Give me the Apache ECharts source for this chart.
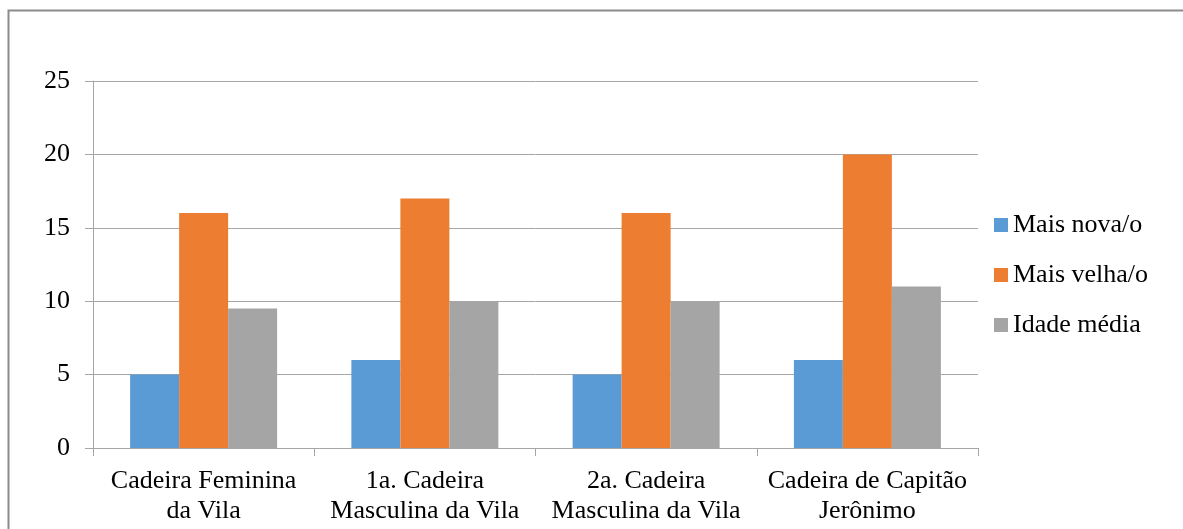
<!DOCTYPE html>
<html><head><meta charset="utf-8">
<script src="https://cdn.jsdelivr.net/npm/echarts@6/dist/echarts.min.js"></script>
<style>html,body{margin:0;padding:0;background:#fff}#c{width:1183px;height:529px}</style>
</head><body><div id="c"></div>
<script>
const categories = ["Cadeira Feminina\nda Vila", "1a. Cadeira\nMasculina da Vila", "2a. Cadeira\nMasculina da Vila", "Cadeira de Capitão\nJerônimo"];
const seriesNames = ["Mais nova/o", "Mais velha/o", "Idade média"];
const maisNova = [5, 6, 5, 6];
const maisVelha = [16, 17, 16, 20];
const idadeMedia = [9.5, 10, 10, 11];
const colors = ["#5B9BD5", "#ED7D31", "#A5A5A5"];
const font = "'Liberation Serif', 'Times New Roman', serif";

const chart = echarts.init(document.getElementById('c'));
chart.setOption({
  animation: false,
  color: colors,
  textStyle: { fontFamily: font },
  graphic: [{
    type: 'rect', shape: { x: 8.5, y: 10.5, width: 1190, height: 600 },
    style: { fill: 'none', stroke: '#8c8c8c', lineWidth: 2 }, silent: true
  }],
  grid: { left: 93, right: 205, top: 81, bottom: 81, containLabel: false },
  legend: {
    orient: 'vertical', left: 989, top: 207, itemWidth: 14, itemHeight: 14, itemGap: 24,
    icon: 'rect',
    textStyle: { fontFamily: font, fontSize: 26, color: '#000', lineHeight: 26 },
    data: seriesNames
  },
  xAxis: {
    type: 'category', data: categories,
    axisLine: { lineStyle: { color: '#a6a6a6', width: 1 } },
    axisTick: { show: true, length: 8, alignWithLabel: false, lineStyle: { color: '#a6a6a6' } },
    axisLabel: { fontFamily: font, fontSize: 26, color: '#000', lineHeight: 30, margin: 18, interval: 0 }
  },
  yAxis: {
    type: 'value', min: 0, max: 25, interval: 5,
    axisLine: { show: true, lineStyle: { color: '#a6a6a6', width: 1 } },
    axisTick: { show: true, length: 8, lineStyle: { color: '#a6a6a6' } },
    splitLine: { show: true, lineStyle: { color: '#a6a6a6', width: 1 } },
    axisLabel: { fontFamily: font, fontSize: 26, color: '#000', margin: 23 }
  },
  series: [
    { name: seriesNames[0], type: 'bar', data: maisNova, barWidth: 49, barGap: '0%' },
    { name: seriesNames[1], type: 'bar', data: maisVelha, barWidth: 49, barGap: '0%' },
    { name: seriesNames[2], type: 'bar', data: idadeMedia, barWidth: 49, barGap: '0%' }
  ]
});
</script></body></html>
